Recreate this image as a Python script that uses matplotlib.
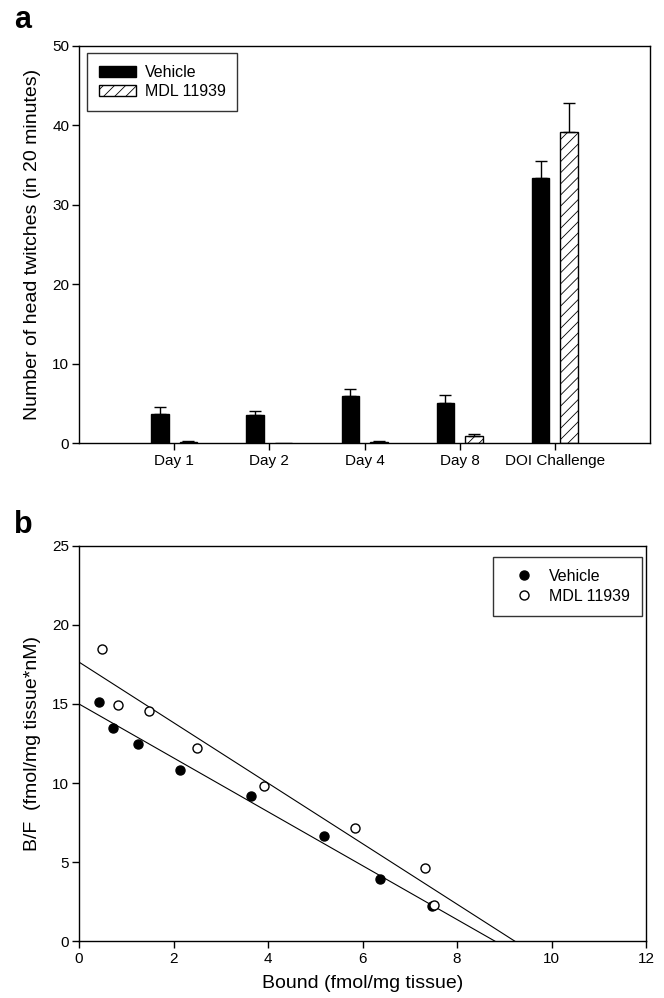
import matplotlib
matplotlib.use("Agg")
import matplotlib.pyplot as plt
import numpy as np

plt.rcParams['font.family'] = ['Liberation Sans', 'DejaVu Sans']
plt.rcParams['hatch.linewidth'] = 0.6

# Panel a: head twitches
days = ["Day 1", "Day 2", "Day 4", "Day 8", "DOI Challenge"]
vehicle_mean = [3.7, 3.6, 5.9, 5.0, 33.4]
vehicle_err = [0.8, 0.45, 0.9, 1.1, 2.1]
mdl_mean = [0.2, 0.0, 0.2, 0.85, 39.15]
mdl_err = [0.1, 0.0, 0.1, 0.25, 3.7]

# Panel b: Scatchard plot
veh_bound = [0.42, 0.72, 1.25, 2.13, 3.64, 5.19, 6.36, 7.48]
veh_bf = [15.1, 13.45, 12.5, 10.8, 9.2, 6.65, 3.95, 2.2]
mdl_bound = [0.49, 0.82, 1.49, 2.49, 3.91, 5.84, 7.33, 7.51]
mdl_bf = [18.5, 14.95, 14.55, 12.2, 9.8, 7.15, 4.6, 2.3]
# fitted lines: y-intercept and x-intercept
veh_fit = (15.0, 8.80)
mdl_fit = (17.65, 9.22)

fig = plt.figure(figsize=(6.64, 9.98), dpi=100)

# ---- panel a ----
ax1 = fig.add_axes([0.119, 0.556, 0.860, 0.398])
x = np.arange(1, len(days) + 1)
w = 0.184
off = 0.15
ax1.bar(x - off, vehicle_mean, w, color='black', edgecolor='black', linewidth=1,
        label='Vehicle', zorder=2)
ax1.bar(x + off, mdl_mean, w, color='white', edgecolor='black', linewidth=1,
        hatch='///', label='MDL 11939', zorder=2)
ax1.errorbar(x - off, vehicle_mean, yerr=[np.zeros(len(x)), vehicle_err], fmt='none',
             ecolor='black', elinewidth=1, capsize=4.5, capthick=1, zorder=3)
show = np.array(mdl_err) > 0
ax1.errorbar((x + off)[show], np.array(mdl_mean)[show],
             yerr=[np.zeros(show.sum()), np.array(mdl_err)[show]], fmt='none',
             ecolor='black', elinewidth=1, capsize=4.5, capthick=1, zorder=3)
ax1.set_xlim(0, 6)
ax1.set_ylim(0, 50)
ax1.set_xticks(x)
ax1.set_xticklabels(days)
ax1.set_yticks(np.arange(0, 51, 10))
ax1.set_ylabel("Number of head twitches (in 20 minutes)", fontsize=14, labelpad=8)
ax1.tick_params(direction='out', labelsize=11, length=5, width=1)
ax1.tick_params(axis='y', pad=2)
ax1.tick_params(axis='x', pad=3)
for s in ax1.spines.values():
    s.set_linewidth(1)
leg = ax1.legend(loc='upper left', bbox_to_anchor=(0.014, 0.982), borderaxespad=0,
                 fontsize=11.5, frameon=True, fancybox=False, edgecolor='black',
                 handlelength=2.3, handleheight=0.7, borderpad=0.75,
                 labelspacing=0.25, handletextpad=0.55)
leg.get_frame().set_linewidth(1)

# ---- panel b ----
ax2 = fig.add_axes([0.119, 0.057, 0.854, 0.396])
ax2.plot(veh_bound, veh_bf, 'o', color='black', markersize=6.5, label='Vehicle', zorder=3)
ax2.plot(mdl_bound, mdl_bf, 'o', markerfacecolor='white', markeredgecolor='black',
         markersize=6.5, markeredgewidth=1, label='MDL 11939', zorder=3)
for b0, x0 in [veh_fit, mdl_fit]:
    ax2.plot([0, x0], [b0, 0], color='black', linewidth=0.8, zorder=2)
ax2.set_xlim(0, 12)
ax2.set_ylim(0, 25)
ax2.set_xticks(np.arange(0, 13, 2))
ax2.set_yticks(np.arange(0, 26, 5))
ax2.set_xlabel("Bound (fmol/mg tissue)", fontsize=14, labelpad=6)
ax2.set_ylabel("B/F  (fmol/mg tissue*nM)", fontsize=14, labelpad=8)
ax2.tick_params(direction='out', labelsize=11, length=5, width=1)
ax2.tick_params(axis='y', pad=2)
ax2.tick_params(axis='x', pad=3)
for s in ax2.spines.values():
    s.set_linewidth(1)
leg2 = ax2.legend(loc='upper right', bbox_to_anchor=(0.993, 0.972), borderaxespad=0,
                  fontsize=11.5, frameon=True, fancybox=False, edgecolor='black',
                  handlelength=2.4, borderpad=0.75, labelspacing=0.3,
                  handletextpad=0.4)
leg2.get_frame().set_linewidth(1)

fig.text(0.021, 0.972, 'a', fontsize=22, fontweight='bold', va='baseline')
fig.text(0.021, 0.466, 'b', fontsize=22, fontweight='bold', va='baseline')

fig.savefig("out.png", dpi=100)
